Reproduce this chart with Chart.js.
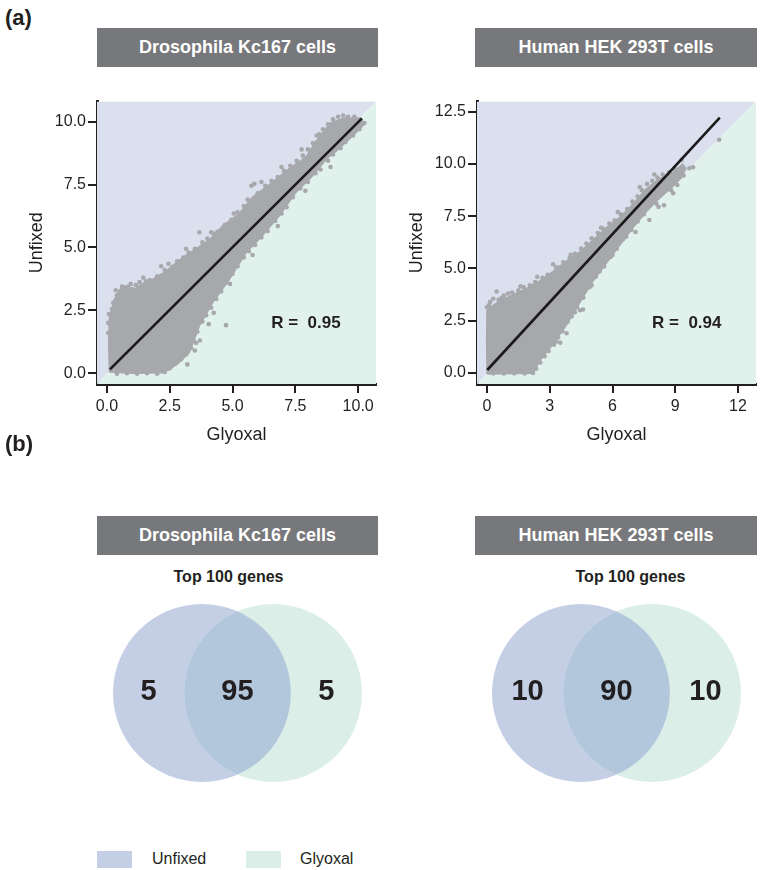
<!DOCTYPE html>
<html><head><meta charset="utf-8">
<script src="https://cdn.jsdelivr.net/npm/chart.js@4.4.1/dist/chart.umd.min.js"></script>
<style>
body{margin:0;background:#fff;font-family:'Liberation Sans',Arial,sans-serif;color:#231f20}
#page{position:relative;width:760px;height:870px;overflow:hidden;background:#fff}
.abs{position:absolute}
.panel{font-weight:bold;font-size:22px;line-height:22px}
.hdr{background:#77787b;color:#fff;font-weight:bold;font-size:18px;height:39px;display:flex;align-items:center;justify-content:center}
.sub{font-weight:bold;font-size:16px;line-height:20px;width:200px;text-align:center}
.leg{font-size:16px;line-height:20px;white-space:nowrap}
canvas{display:block}
</style></head><body><div id="page">
<div class="abs panel" style="left:5px;top:7px">(a)</div>
<div class="abs hdr" style="left:97px;top:28px;width:281px">Drosophila Kc167 cells</div>
<div class="abs hdr" style="left:475px;top:28px;width:282px">Human HEK 293T cells</div>
<div class="abs" style="left:0;top:90px"><canvas id="s1" width="380" height="360"></canvas></div>
<div class="abs" style="left:380px;top:90px"><canvas id="s2" width="380" height="360"></canvas></div>
<div class="abs panel" style="left:5px;top:433px">(b)</div>
<div class="abs hdr" style="left:97px;top:516px;width:281px">Drosophila Kc167 cells</div>
<div class="abs hdr" style="left:475px;top:516px;width:282px">Human HEK 293T cells</div>
<div class="abs sub" style="left:128.5px;top:567px">Top 100 genes</div>
<div class="abs sub" style="left:530.5px;top:567px">Top 100 genes</div>
<div class="abs" style="left:97px;top:595px"><canvas id="v1" width="281" height="196"></canvas></div>
<div class="abs" style="left:475.5px;top:595px"><canvas id="v2" width="281" height="196"></canvas></div>
<div class="abs" style="left:97px;top:851px;width:35px;height:17px;background:#c4cfe6"></div>
<div class="abs leg" style="left:152px;top:849px">Unfixed</div>
<div class="abs" style="left:246px;top:851px;width:35px;height:17px;background:#dbefe8"></div>
<div class="abs leg" style="left:300px;top:849px">Glyoxal</div>
</div>
<script>
const FONT = "'Liberation Sans', Arial, sans-serif";
const INK = '#231f20';
const DOT = '#a7a8ab';
const BG_ABOVE = '#dae0ee';
const BG_BELOW = '#e1f2ec';
const C_UNFIXED = '#c4cfe6';
const C_GLYOXAL = '#dbefe8';
const C_BOTH = '#b3c7dc';

// ---------- data: (a) scatter panels ----------
const drosoXTicks = [0, 2.5, 5, 7.5, 10];
const drosoYTicks = [0, 2.5, 5, 7.5, 10];
const hekXTicks = [0, 3, 6, 9, 12];
const hekYTicks = [0, 2.5, 5, 7.5, 10, 12.5];
const drosoXRange = [-0.395, 10.71];
const drosoYRange = [-0.43, 10.8];
const hekXRange = [-0.48, 12.86];
const hekYRange = [-0.53, 12.99];
const drosoFit = [[0.12, 0.15], [10.15, 10.13]];
const hekFit = [[0.01, 0.14], [11.13, 12.22]];
const drosoR = 'R =  0.95';
const hekR = 'R =  0.94';

// outline of the dense point cloud (Glyoxal, Unfixed)
const drosoCloud = [[0.1,0.05],[0.07,1.2],[0.1,2.2],[0.3,2.95],[0.55,3.35],[0.8,3.4],[1.05,3.3],[1.4,3.55],[1.85,3.75],[2.35,4.05],[2.88,4.5],[3.4,4.85],[4.08,5.3],[4.6,5.85],[5.27,6.35],[5.8,7.0],[6.6,7.6],[7.27,8.15],[7.93,8.6],[8.3,9.2],[8.9,9.95],[9.45,10.15],[10.1,10.15],[10.25,9.9],[9.75,9.4],[9.2,8.9],[8.72,8.5],[8.2,7.86],[7.53,7.2],[6.87,6.27],[6.07,5.34],[5.54,4.8],[4.88,3.74],[4.21,2.81],[3.68,1.88],[3.28,0.82],[2.9,0.45],[2.5,0.15],[2.2,0.02],[1.0,0.0],[0.1,0.05]];
// individual genes along the cloud edges
const drosoDots = [[0.05,1.6],[0.05,2.0],[0.08,2.35],[0.2,2.55],[0.25,2.8],[0.4,3.1],[0.5,3.25],[0.6,3.45],[0.7,3.42],[0.85,3.45],[1.0,3.35],[1.15,3.5],[1.3,3.62],[1.55,3.65],[1.7,3.7],[2.0,3.85],[2.16,4.25],[2.3,4.1],[2.6,4.22],[2.8,4.45],[3.05,4.6],[3.25,4.8],[3.5,4.95],[3.68,5.6],[3.8,5.2],[4.0,5.35],[4.25,5.55],[4.4,5.62],[4.5,5.62],[4.7,5.9],[4.95,6.1],[5.2,6.4],[5.45,6.65],[5.6,6.9],[5.75,7.45],[5.87,7.53],[6.0,7.15],[6.3,7.45],[6.55,7.65],[6.8,7.8],[7.05,8.05],[7.3,8.25],[7.55,8.45],[7.8,8.65],[8.0,8.9],[8.2,9.15],[8.45,9.5],[8.6,9.7],[8.8,9.9],[9.0,10.1],[9.2,10.2],[9.4,10.25],[9.6,10.2],[9.85,10.2],[10.25,9.95],[10.05,9.7],[9.8,9.45],[9.5,9.2],[9.3,8.95],[9.0,8.7],[8.8,8.45],[8.5,8.1],[8.3,7.95],[8.0,7.6],[7.7,7.35],[7.4,7.0],[7.15,6.6],[6.95,6.35],[6.7,6.05],[6.4,5.65],[6.15,5.4],[5.9,5.1],[5.65,4.85],[5.45,4.6],[5.2,4.25],[5.0,3.95],[4.75,3.6],[4.55,3.25],[4.35,2.95],[4.15,2.6],[3.95,2.3],[3.8,2.05],[3.6,1.65],[3.45,1.3],[3.35,1.0],[3.15,0.75],[2.95,0.55],[2.75,0.4],[2.5,0.2],[2.3,0.05],[2.0,-0.02],[1.6,0.0],[1.2,-0.02],[0.8,0.0],[0.4,-0.02],[4.74,1.91],[3.5,0.9],[3.2,0.35],[3.7,1.3],[4.05,1.95],[0.35,3.3],[0.95,3.55],[1.45,3.8],[2.45,4.35],[3.15,4.95],[4.15,5.6],[5.05,6.35],[6.15,7.6],[6.95,8.2],[7.75,8.9],[8.35,9.45],[8.9,8.2],[7.9,7.25],[6.8,5.85],[5.8,4.7],[4.9,3.55],[4.25,2.4],[3.55,1.2]];

const hekCloud = [[0.0,-0.05],[-0.02,1.5],[0.0,3.0],[0.25,3.2],[0.6,3.45],[1.25,3.75],[1.9,4.05],[2.5,4.4],[3.15,4.85],[3.8,5.35],[4.45,5.8],[5.05,6.35],[5.7,6.95],[6.35,7.45],[7.0,8.1],[7.6,8.8],[8.25,9.3],[8.9,9.6],[9.35,10.0],[9.5,9.8],[9.3,9.35],[8.9,8.95],[8.24,8.35],[7.6,7.7],[6.97,6.95],[6.33,6.1],[5.7,5.25],[5.06,4.4],[4.43,3.35],[3.8,2.3],[3.16,1.38],[2.52,0.58],[2.2,-0.02],[0.0,-0.05]];
const hekDots = [[0.0,3.15],[0.1,3.25],[0.2,3.1],[0.3,3.55],[0.46,3.9],[0.55,3.5],[0.8,3.7],[1.0,3.8],[1.2,3.85],[1.5,3.95],[1.75,4.1],[2.05,4.2],[2.3,4.35],[2.65,4.55],[2.9,4.7],[3.16,5.2],[3.4,5.05],[3.65,5.3],[3.95,5.5],[4.2,5.7],[4.5,5.95],[4.75,6.2],[5.0,6.45],[5.3,6.7],[5.55,6.9],[5.85,7.15],[6.1,7.3],[6.4,7.6],[6.7,7.85],[6.95,8.2],[7.2,8.45],[7.4,8.75],[7.65,9.05],[7.9,9.2],[8.15,9.35],[8.4,9.5],[8.7,9.6],[9.0,9.75],[9.3,10.2],[9.67,9.8],[9.85,9.85],[9.4,9.45],[9.1,9.0],[8.8,8.75],[8.46,8.03],[8.1,8.1],[7.76,7.32],[7.5,7.6],[7.2,7.25],[6.65,6.52],[6.9,6.85],[6.5,6.4],[6.2,5.95],[5.9,5.55],[5.6,5.1],[5.38,4.86],[5.2,4.6],[4.9,4.1],[4.59,3.04],[4.6,3.6],[4.3,3.15],[4.05,2.7],[3.85,2.45],[3.6,2.0],[3.4,1.7],[3.2,1.35],[2.95,1.05],[2.75,0.8],[2.55,0.5],[2.35,0.2],[2.2,0.0],[1.8,-0.03],[1.3,-0.02],[0.8,-0.03],[0.3,-0.02],[11.1,11.16],[3.8,1.9],[3.5,1.45],[4.45,3.0],[0.15,3.4],[0.7,3.6],[1.6,4.15],[2.4,4.6],[3.3,5.05],[4.0,5.65],[5.45,6.95],[6.25,7.7],[7.3,8.9],[8.0,9.5],[8.9,8.6],[8.2,7.95],[7.1,6.75],[6.0,5.65],[5.0,4.2],[4.2,2.9],[3.3,1.5]];

// ---------- data: (b) Venn counts [Unfixed only, both, Glyoxal only] ----------
const vennDroso = [5, 95, 5];
const vennHek = [10, 90, 10];

// ---------- helpers ----------
const pts = a => a.map(p => ({x: p[0], y: p[1]}));

function axis(range, ticks, fmt, title, isX) {
  return {
    type: 'linear', min: range[0], max: range[1],
    afterBuildTicks: s => { s.ticks = ticks.map(v => ({value: v})); },
    afterFit: s => { if (isX) s.height = 66; else s.width = 97; },
    ticks: {callback: v => fmt(v), color: INK, font: {family: FONT, size: 16},
            padding: isX ? 4 : 2, autoSkip: false, maxRotation: 0, minRotation: 0},
    grid: {display: true, drawOnChartArea: false, drawTicks: true, tickLength: 9, color: INK, lineWidth: 2},
    border: {display: true, color: INK, width: 3},
    title: {display: true, text: title, color: INK, font: {family: FONT, size: 18},
            padding: isX ? {top: 0, bottom: 4.2} : {top: 26, bottom: 0}}
  };
}

const rLabel = {
  id: 'rLabel',
  afterDatasetsDraw(chart, args, opts) {
    const {ctx, scales: {x, y}} = chart;
    ctx.save();
    ctx.font = 'bold 17px ' + FONT;
    ctx.fillStyle = INK;
    ctx.textAlign = 'center';
    ctx.textBaseline = 'middle';
    ctx.fillText(opts.text, x.getPixelForValue(opts.x), y.getPixelForValue(opts.y));
    ctx.restore();
  }
};

function makeScatter(id, xr, yr, xt, yt, xfmt, cloud, dots, fit, rText, rPos, padRight) {
  const above = [[xr[0], yr[0]], [xr[0], yr[1]], [xr[1], yr[1]]];
  const below = [[xr[0], yr[0]], [xr[1], yr[0]], [xr[1], yr[1]]];
  new Chart(document.getElementById(id), {
    type: 'scatter',
    data: {datasets: [
      {type: 'line', data: pts(above), showLine: true, fill: 'shape', backgroundColor: BG_ABOVE, borderWidth: 0, pointRadius: 0, order: 5},
      {type: 'line', data: pts(below), showLine: true, fill: 'shape', backgroundColor: BG_BELOW, borderWidth: 0, pointRadius: 0, order: 4},
      {type: 'line', data: pts(cloud), showLine: true, fill: 'shape', backgroundColor: DOT, borderColor: DOT, borderWidth: 1.5, pointRadius: 0, order: 3},
      {type: 'scatter', data: pts(dots), backgroundColor: DOT, borderWidth: 0, pointRadius: 2.3, order: 2},
      {type: 'line', data: pts(fit), showLine: true, fill: false, borderColor: '#1b1b1b', borderWidth: 2.6, pointRadius: 0, order: 1}
    ]},
    options: {
      responsive: false, animation: false, events: [],
      layout: {padding: {top: 9, right: padRight, left: 0, bottom: 0}},
      scales: {
        x: axis(xr, xt, xfmt, 'Glyoxal', true),
        y: axis(yr, yt, v => v.toFixed(1), 'Unfixed', false)
      },
      plugins: {legend: {display: false}, tooltip: {enabled: false},
                rLabel: {text: rText, x: rPos[0], y: rPos[1]}}
    },
    plugins: [rLabel]
  });
}

makeScatter('s1', drosoXRange, drosoYRange, drosoXTicks, drosoYTicks, v => v.toFixed(1),
            drosoCloud, drosoDots, drosoFit, drosoR, [7.92, 2.0], 2);
makeScatter('s2', hekXRange, hekYRange, hekXTicks, hekYTicks, v => String(v),
            hekCloud, hekDots, hekFit, hekR, [9.55, 2.39], 3);

// ---------- Venn ----------
const VENN_OFFSET = 0.4;   // circle centre distance from middle, in radius units
const unitPx = chart => chart.scales.x.getPixelForValue(1) - chart.scales.x.getPixelForValue(0);

const vennLens = {
  id: 'vennLens',
  beforeDatasetDraw(chart, args) {
    if (args.index !== 2) return;
    const el = chart.getDatasetMeta(0).data[0];
    const c = chart.ctx;
    c.save();
    c.beginPath();
    c.arc(el.x, el.y, el.options.radius, 0, Math.PI * 2);
    c.clip();
  },
  afterDatasetDraw(chart, args) { if (args.index === 2) chart.ctx.restore(); }
};
const vennLabels = {
  id: 'vennLabels',
  afterDatasetsDraw(chart, args, opts) {
    const L = chart.getDatasetMeta(0).data[0];
    const R = chart.getDatasetMeta(1).data[0];
    const r = L.options.radius;
    if (!(r > 0)) return;
    const xs = [((L.x - r) + (R.x - r)) / 2, (L.x + R.x) / 2, ((L.x + r) + (R.x + r)) / 2];
    const c = chart.ctx;
    c.save();
    c.font = 'bold 29px ' + FONT;
    c.fillStyle = INK;
    c.textAlign = 'center';
    c.textBaseline = 'middle';
    opts.counts.forEach((n, i) => c.fillText(String(n), xs[i], L.y - 1));
    c.restore();
  }
};
function makeVenn(id, counts) {
  const chart = new Chart(document.getElementById(id), {
    type: 'bubble',
    data: {datasets: [
      {label: 'Unfixed', data: [{x: -VENN_OFFSET, y: 0}], backgroundColor: C_UNFIXED, borderWidth: 0, order: 3},
      {label: 'Glyoxal', data: [{x: VENN_OFFSET, y: 0}], backgroundColor: C_GLYOXAL, borderWidth: 0, order: 2},
      {label: 'Both', data: [{x: VENN_OFFSET, y: 0}], backgroundColor: C_BOTH, borderWidth: 0, order: 1}
    ]},
    options: {
      responsive: false, animation: false, events: [], clip: false,
      layout: {padding: 0, autoPadding: false},
      scales: {x: {display: false, min: -1.58, max: 1.58}, y: {display: false, min: -1.1, max: 1.1}},
      plugins: {legend: {display: false}, tooltip: {enabled: false}, vennLabels: {counts: counts}}
    },
    plugins: [vennLens, vennLabels]
  });
  // circle radius = one unit of the x scale, in pixels
  const r = unitPx(chart);
  chart.data.datasets.forEach(d => { d.data = d.data.map(p => ({x: p.x, y: p.y, r: r})); });
  chart.update();
}
makeVenn('v1', vennDroso);
makeVenn('v2', vennHek);
</script>
</body></html>
